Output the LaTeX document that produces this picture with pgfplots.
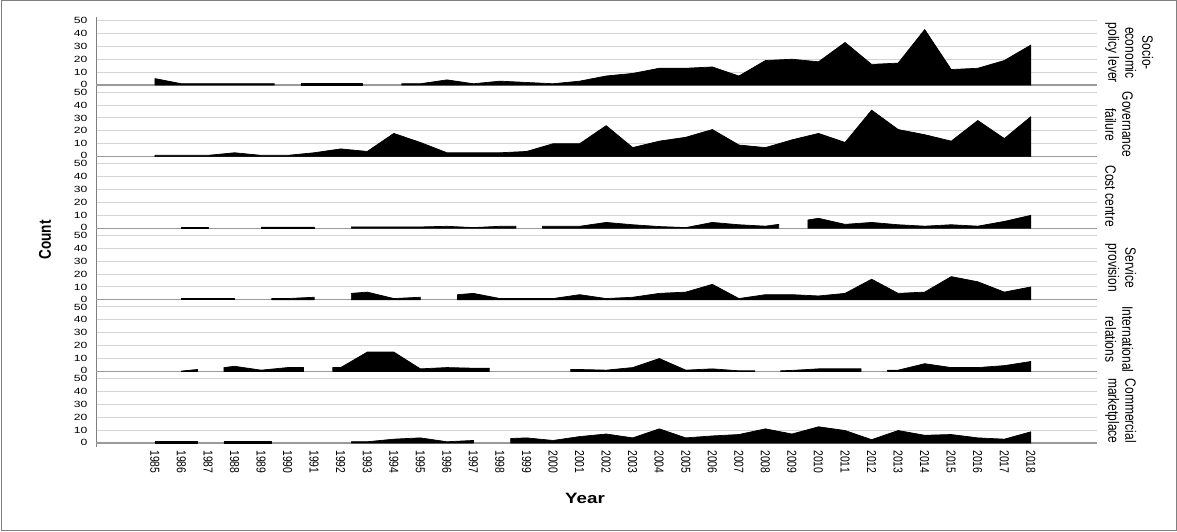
\documentclass[border=0pt]{standalone}
\usepackage{fontspec}
\setmainfont{Liberation Sans}
\newfontfamily\widefont[FakeStretch=1.25]{Liberation Sans}
\newfontfamily\tickfont[FakeStretch=1.35]{Liberation Sans}
\newfontfamily\narrowfont[FakeStretch=0.8]{Liberation Sans}
\usepackage{pgfplots}
\pgfplotsset{compat=1.18}
\definecolor{gridc}{HTML}{D4D4D4}
\definecolor{basec}{HTML}{9A9A9A}
\definecolor{axc}{HTML}{808080}
\pgfplotsset{
  ar/.style={draw=black, fill=black, mark=none, line width=0.7pt, line join=round},
  panel/.style={
    at={(96pt,#1)}, anchor=south west, scale only axis,
    width=1001pt, height=71.6pt,
    xmin=1982.78, xmax=2020.49, ymin=-3, ymax=52.5,
    axis lines*=left,
    x axis line style={draw=none},
    y axis line style={draw=axc, line width=1pt},
    major tick length=0pt,
    ytick={10,20,30,40,50},
    yticklabels={10,20,30,40,\raisebox{-1.6pt}{50}},
    extra y ticks={0},
    extra y tick labels={\raisebox{1.6pt}{0}},
    extra y tick style={grid style={color=basec, line width=1.3pt}},
    ymajorgrids,
    grid style={color=gridc, line width=1pt},
    xtick=\empty,
    /pgf/number format/assume math mode=true,
    yticklabel style={font=\tickfont\fontsize{9}{9}\selectfont, xshift=-5pt},
  }
}
\begin{document}
\begin{tikzpicture}[x=1pt,y=1pt]
\useasboundingbox (0,0) rectangle (1177,532);
\draw[color=axc, line width=1pt] (1,1) rectangle (1176,531);

% Panel 1: Socio-economic policy lever
\begin{axis}[panel=443.1pt]
\addplot[ar] coordinates {(1985,5)(1986,1)(1987,1)(1988,1)(1989,1)(1989.5,1)} \closedcycle;
\addplot[ar] coordinates {(1990.5,1)(1991,1)(1992,1)(1992.8,1)} \closedcycle;
\addplot[ar] coordinates {(1994.3,1)(1995,1)(1996,4)(1997,1)(1998,3)(1999,2)(2000,1)(2001,3)(2002,7)(2003,9)(2004,13)(2005,13)(2006,14)(2007,7)(2008,19)(2009,20)(2010,18)(2011,33)(2012,16)(2013,17)(2014,43)(2015,12)(2016,13)(2017,19)(2018,31)} \closedcycle;
\end{axis}

% Panel 2: Governance failure
\begin{axis}[panel=371.5pt]
\addplot[ar] coordinates {(1985,1)(1986,1)(1987,1)(1988,3)(1989,1)(1990,1)(1991,3)(1992,6)(1993,4)(1994,18)(1995,11)(1996,3)(1997,3)(1998,3)(1999,4)(2000,10)(2001,10)(2002,24)(2003,7)(2004,12)(2005,15)(2006,21)(2007,9)(2008,7)(2009,13)(2010,18)(2011,11)(2012,36)(2013,21)(2014,17)(2015,12)(2016,28)(2017,14)(2018,31)} \closedcycle;
\end{axis}

% Panel 3: Cost centre
\begin{axis}[panel=299.9pt]
\addplot[ar] coordinates {(1986,1)(1987,1)} \closedcycle;
\addplot[ar] coordinates {(1989,1)(1990,1)(1991,1)} \closedcycle;
\addplot[ar] coordinates {(1992.4,1)(1993,1)(1994,1)(1995,1)(1996,1.5)(1997,0.5)(1998,1.5)(1998.6,1.5)} \closedcycle;
\addplot[ar] coordinates {(1999.6,1.5)(2000,1.5)(2001,1.5)(2002,4.5)(2003,2.7)(2004,1.3)(2005,0.5)(2006,4.5)(2007,2.7)(2008,1.6)(2008.5,3)} \closedcycle;
\addplot[ar] coordinates {(2009.6,6.4)(2010,7.7)(2011,3)(2012,4.5)(2013,2.7)(2014,1.6)(2015,2.7)(2016,1.6)(2017,5.3)(2018,10)} \closedcycle;
\end{axis}

% Panel 4: Service provision
\begin{axis}[panel=228.3pt]
\addplot[ar] coordinates {(1986,1)(1987,1)(1988,1)} \closedcycle;
\addplot[ar] coordinates {(1989.4,1)(1990,1)(1991,2)} \closedcycle;
\addplot[ar] coordinates {(1992.4,5)(1993,6)(1994,1)(1995,2)} \closedcycle;
\addplot[ar] coordinates {(1996.4,4)(1997,5)(1998,1)(1999,1)(2000,1)(2001,4)(2002,1)(2003,2)(2004,5)(2005,6)(2006,12)(2007,1)(2008,4)(2009,4)(2010,3)(2011,5)(2012,16)(2013,5)(2014,6)(2015,18)(2016,14)(2017,6)(2018,10)} \closedcycle;
\end{axis}

% Panel 5: International relations
\begin{axis}[panel=156.7pt]
\addplot[ar] coordinates {(1986,0.3)(1986.6,1.5)} \closedcycle;
\addplot[ar] coordinates {(1987.6,3)(1988,4)(1989,1)(1990,3)(1990.6,3)} \closedcycle;
\addplot[ar] coordinates {(1991.7,3)(1992,3)(1993,15)(1994,15)(1995,2)(1996,3)(1997,2.5)(1997.6,2.5)} \closedcycle;
\addplot[ar] coordinates {(2000.66,1.5)(2001,1.5)(2002,1)(2003,3)(2004,10)(2005,1)(2006,2)(2007,0.5)(2007.6,0.5)} \closedcycle;
\addplot[ar] coordinates {(2008.57,0.5)(2009,0.8)(2010,2)(2011,2)(2011.6,2)} \closedcycle;
\addplot[ar] coordinates {(2012.6,1)(2013,1)(2014,6)(2015,3)(2016,3)(2017,4.5)(2018,7.7)} \closedcycle;
\end{axis}

% Panel 6: Commercial marketplace
\begin{axis}[panel=85.1pt,
  xtick={1985,...,2018},
  /pgf/number format/1000 sep={},
  xticklabel style={rotate=-90, anchor=west, font=\narrowfont\fontsize{13}{13}\selectfont}]
\addplot[ar] coordinates {(1985,1)(1986,1)(1986.6,1)} \closedcycle;
\addplot[ar] coordinates {(1987.6,1)(1988,1)(1989,1)(1989.4,1)} \closedcycle;
\addplot[ar] coordinates {(1992.4,1)(1993,1)(1994,3)(1995,4)(1996,1)(1997,2)} \closedcycle;
\addplot[ar] coordinates {(1998.4,3.5)(1999,4)(2000,2)(2001,5)(2002,7)(2003,4)(2004,11)(2005,4)(2006,5.5)(2007,6.6)(2008,11)(2009,7)(2010,12.6)(2011,9.7)(2012,2.6)(2013,9.7)(2014,6)(2015,6.6)(2016,4)(2017,3)(2018,8.7)} \closedcycle;
\end{axis}

% right-hand panel labels
\begin{scope}[every node/.style={rotate=-90, anchor=south, align=center,
   font=\narrowfont\fontsize{15}{17}\selectfont, inner sep=0pt}]
\node at (1105,479) {Socio-\\economic\\policy lever};
\node at (1105,407.4) {Governance\\failure};
\node at (1105,335.8) {Cost centre};
\node at (1105,264.2) {Service\\provision};
\node at (1105,192.6) {International\\relations};
\node at (1105,121) {Commercial\\marketplace};
\end{scope}

\node[rotate=90, font=\narrowfont\bfseries\fontsize{17}{17}\selectfont] at (45,292) {Count};
\node[font=\widefont\bfseries\fontsize{15}{15}\selectfont] at (585,34) {Year};
\end{tikzpicture}
\end{document}
